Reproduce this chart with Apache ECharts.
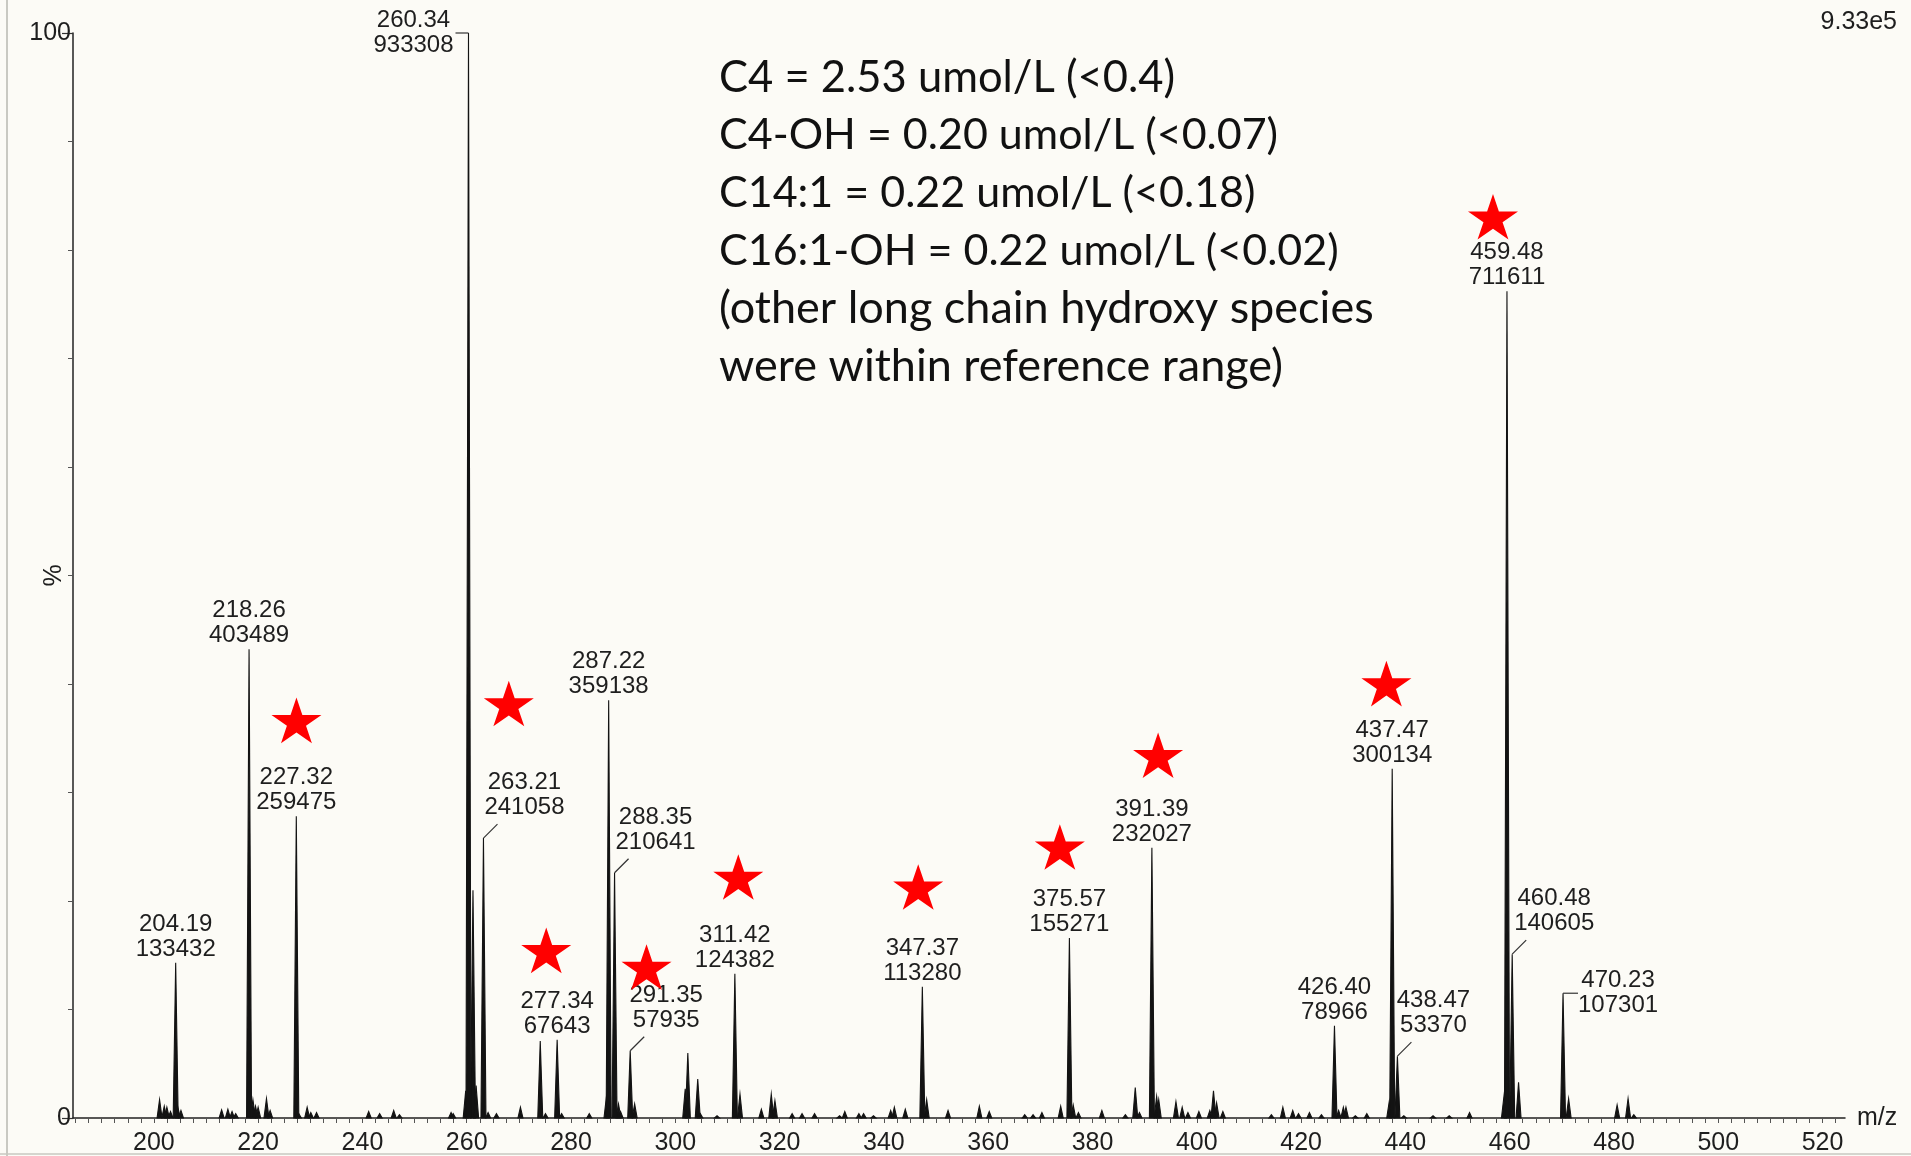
<!DOCTYPE html>
<html><head><meta charset="utf-8">
<script src="https://cdn.jsdelivr.net/npm/echarts@6/dist/echarts.min.js"></script>
<style>html,body{margin:0;padding:0;background:#fcfbf6}#c{width:1911px;height:1156px}</style>
</head><body><div id="c"></div>
<script>
// ---- data ----
// unlabelled minor peaks (m/z, relative intensity %)
const minorMz = [201.1,202.0,202.5,203.2,204.6,205.2,213.0,214.2,215.0,215.7,219.0,219.5,220.0,221.6,222.3,227.8,229.4,230.1,231.2,241.2,243.3,246.0,247.1,257.0,257.4,259.8,261.2,261.8,264.1,265.7,270.3,274.1,275.1,278.2,283.5,286.8,289.1,289.5,292.2,301.9,302.4,304.3,304.8,308.0,312.4,316.5,318.4,319.1,322.4,324.3,326.7,331.5,332.5,335.2,336.1,338.0,341.3,342.0,344.1,348.2,352.3,358.3,360.2,367.0,368.6,370.3,373.9,376.3,377.3,381.8,386.3,388.2,389.0,392.3,392.7,396.0,397.2,398.3,400.4,402.5,403.2,403.8,405.0,414.3,416.5,418.4,419.5,421.6,423.9,427.2,428.1,428.6,430.4,432.6,436.9,439.7,445.3,448.4,452.3,458.9,461.7,471.3,480.6,482.7,483.8];
const minorPct = [1.7,1.1,1.0,0.6,1.0,0.7,0.75,0.8,0.6,0.4,1.7,1.1,1.0,1.8,0.7,0.4,1.0,0.5,0.5,0.6,0.4,0.7,0.3,0.5,0.4,2.5,21.0,3.0,0.5,0.4,1.0,7.1,0.4,0.4,0.4,2.0,1.3,0.6,1.3,2.7,6.0,3.6,0.4,0.2,2.2,0.8,2.2,1.6,0.4,0.4,0.4,0.2,0.6,0.4,0.4,0.2,0.7,1.0,0.8,1.7,0.7,1.1,0.6,0.3,0.3,0.5,1.1,1.2,0.5,0.7,0.3,2.8,0.5,2.0,1.7,1.5,1.0,0.5,0.6,0.7,2.5,1.4,0.6,0.3,1.0,0.7,0.4,0.5,0.3,0.7,1.0,1.0,0.2,0.4,1.5,0.2,0.2,0.2,0.5,2.0,3.3,1.8,1.2,1.8,0.3];
// labelled peaks
const labelMz = ['204.19','218.26','227.32','260.34','263.21','277.34','287.22','288.35','291.35','311.42','347.37','375.57','391.39','426.40','437.47','438.47','459.48','460.48','470.23'];
const labelCounts = ['133432','403489','259475','933308','241058','67643','359138','210641','57935','124382','113280','155271','232027','78966','300134','53370','711611','140605','107301'];
const labelPct = [14.3,43.2,27.8,100,25.8,7.2,38.5,22.6,6.2,13.3,12.1,16.6,24.9,8.5,32.2,5.7,76.2,15.1,11.5];
// red star markers (m/z, %)
const starMz = [227.35,268.07,275.25,294.48,312.08,346.58,373.74,392.58,436.36,456.80];
const starPct = [36.65,38.2,15.45,13.91,22.21,21.29,24.98,33.43,40.04,83.06];
// axis tick labels
const xTickLabels = [200,220,240,260,280,300,320,340,360,380,400,420,440,460,480,500,520];
const infoLines = ['C4 = 2.53 umol/L (<0.4)','C4-OH = 0.20 umol/L (<0.07)','C14:1 = 0.22 umol/L (<0.18)','C16:1-OH = 0.22 umol/L (<0.02)','(other long chain hydroxy species','were within reference range)'];
const scaleText = '9.33e5';

// ---- label placement styles (layout only) ----
const labelLayout = [
  {t:'top'},{t:'top'},{t:'top'},{t:'bl',dx:-55},{t:'diag',dx:41},{t:'top'},{t:'top'},{t:'diag',dx:41},{t:'diag',dx:36},
  {t:'top'},{t:'top'},{t:'top'},{t:'top'},{t:'top'},{t:'top'},{t:'diag',dx:36},{t:'top'},{t:'diag',dx:42},{t:'br',dx:55}
];
const infoFontSizes = [43.5,43,43,43,45,45];
const infoY = [78,135,193,251,308,366];

const xTicks = [];
for (let v = 185; v <= 523; v += 2.5) xTicks.push(v);

const peakData = minorMz.map((m,i)=>[m, minorPct[i]]).concat(labelMz.map((m,i)=>[parseFloat(m), labelPct[i]]));
const labelData = labelMz.map((m,i)=>[parseFloat(m), labelPct[i]]);
const starData = starMz.map((m,i)=>[m, starPct[i]]);

const INK = '#131313';
const LFONT = '24px "Liberation Sans", Arial, sans-serif';

function renderPeak(params, api){
  const x = api.value(0), y = api.value(1);
  const p0 = api.coord([x,0]), p1 = api.coord([x,y]);
  const w = 2.5;
  return {type:'polygon', shape:{points:[[p0[0]-w,p0[1]],[p1[0],p1[1]],[p0[0]+w,p0[1]]]},
          style:{fill:INK, stroke:INK, lineWidth:1.1}};
}

function renderLabel(params, api){
  const i = params.dataIndex;
  const p = api.coord([api.value(0), api.value(1)]);
  const L = labelLayout[i];
  const txt = labelMz[i] + '\n' + labelCounts[i];
  const ch = [];
  const ts = {font:LFONT, lineHeight:25, fill:'#1e1e1e', text:txt, textAlign:'center'};
  const ls = {stroke:'#333', lineWidth:1.2};
  if (L.t === 'top') {
    ch.push({type:'text', x:p[0], y:p[1]-1, style:Object.assign({}, ts, {textVerticalAlign:'bottom'})});
  } else if (L.t === 'diag') {
    ch.push({type:'line', shape:{x1:p[0], y1:p[1], x2:p[0]+14, y2:p[1]-14}, style:ls});
    ch.push({type:'text', x:p[0]+L.dx, y:p[1]-18, style:Object.assign({}, ts, {textVerticalAlign:'bottom'})});
  } else if (L.t === 'bl') {
    ch.push({type:'line', shape:{x1:p[0]-13, y1:p[1], x2:p[0], y2:p[1]}, style:ls});
    ch.push({type:'text', x:p[0]+L.dx, y:p[1], style:Object.assign({}, ts, {textVerticalAlign:'middle'})});
  } else if (L.t === 'br') {
    ch.push({type:'line', shape:{x1:p[0], y1:p[1], x2:p[0]+15, y2:p[1]}, style:ls});
    ch.push({type:'text', x:p[0]+L.dx, y:p[1], style:Object.assign({}, ts, {textVerticalAlign:'middle'})});
  }
  return {type:'group', children:ch};
}

const axisFont = {fontFamily:'"Liberation Sans", Arial, sans-serif', fontSize:25, color:'#1e1e1e'};

const graphics = [
  {type:'text', right:14, top:10, style:{text:scaleText, font:'25px "Liberation Sans", Arial, sans-serif', fill:'#1e1e1e'}},
  {type:'line', shape:{x1:7, y1:0, x2:7, y2:1156}, style:{stroke:'#b8b8b0', lineWidth:1.5}},
  {type:'line', shape:{x1:0, y1:1154, x2:1911, y2:1154}, style:{stroke:'#c8c8c0', lineWidth:1.5}}
];
infoLines.forEach((s,i)=>{
  graphics.push({type:'text', x:719, y:infoY[i], style:{text:s, font:infoFontSizes[i]+'px Lato, "Noto Sans", sans-serif', fill:'#111', textVerticalAlign:'middle', textAlign:'left'}});
});

const chart = echarts.init(document.getElementById('c'), null, {renderer:'canvas'});
chart.setOption({
  backgroundColor:'#fcfbf6',
  animation:false,
  grid:{left:73, right:66, top:33, bottom:38, outerBoundsMode:'none', containLabel:false},
  xAxis:{
    type:'value', min:184.5, max:524.3,
    axisLine:{show:true, onZero:false, lineStyle:{color:'#222', width:1.5}},
    axisTick:{show:true, length:5, customValues:xTicks, lineStyle:{color:'#555', width:1}},
    axisLabel:Object.assign({customValues:xTickLabels, margin:13}, axisFont),
    splitLine:{show:false},
    name:'m/z', nameLocation:'end', nameGap:12, nameMoveOverlap:false,
    nameTextStyle:Object.assign({verticalAlign:'middle', align:'left'}, axisFont)
  },
  yAxis:{
    type:'value', min:0, max:100, interval:100,
    axisLine:{show:true, lineStyle:{color:'#222', width:1.5}},
    axisTick:{show:true, length:11, lineStyle:{color:'#333', width:1.2}},
    minorTick:{show:true, splitNumber:10, length:5, lineStyle:{color:'#555', width:1}},
    axisLabel:Object.assign({margin:2}, axisFont),
    splitLine:{show:false}, minorSplitLine:{show:false},
    name:'%', nameLocation:'middle', nameGap:6, nameRotate:90, nameMoveOverlap:false,
    nameTextStyle:axisFont
  },
  graphic:graphics,
  series:[
    {type:'custom', name:'peaks', renderItem:renderPeak, data:peakData, clip:false, z:2, encode:{x:0,y:1}},
    {type:'custom', name:'labels', renderItem:renderLabel, data:labelData, clip:false, z:3, encode:{x:0,y:1}},
    {type:'scatter', name:'stars', data:starData, z:5, clip:false,
     symbol:'path://M0,-100L22.45,-30.9L95.11,-30.9L36.33,11.8L58.78,80.9L0,38.2L-58.78,80.9L-36.33,11.8L-95.11,-30.9L-22.45,-30.9Z',
     symbolSize:[50,48], symbolKeepAspect:true, itemStyle:{color:'#ff0000', opacity:1}}
  ]
});
</script></body></html>
